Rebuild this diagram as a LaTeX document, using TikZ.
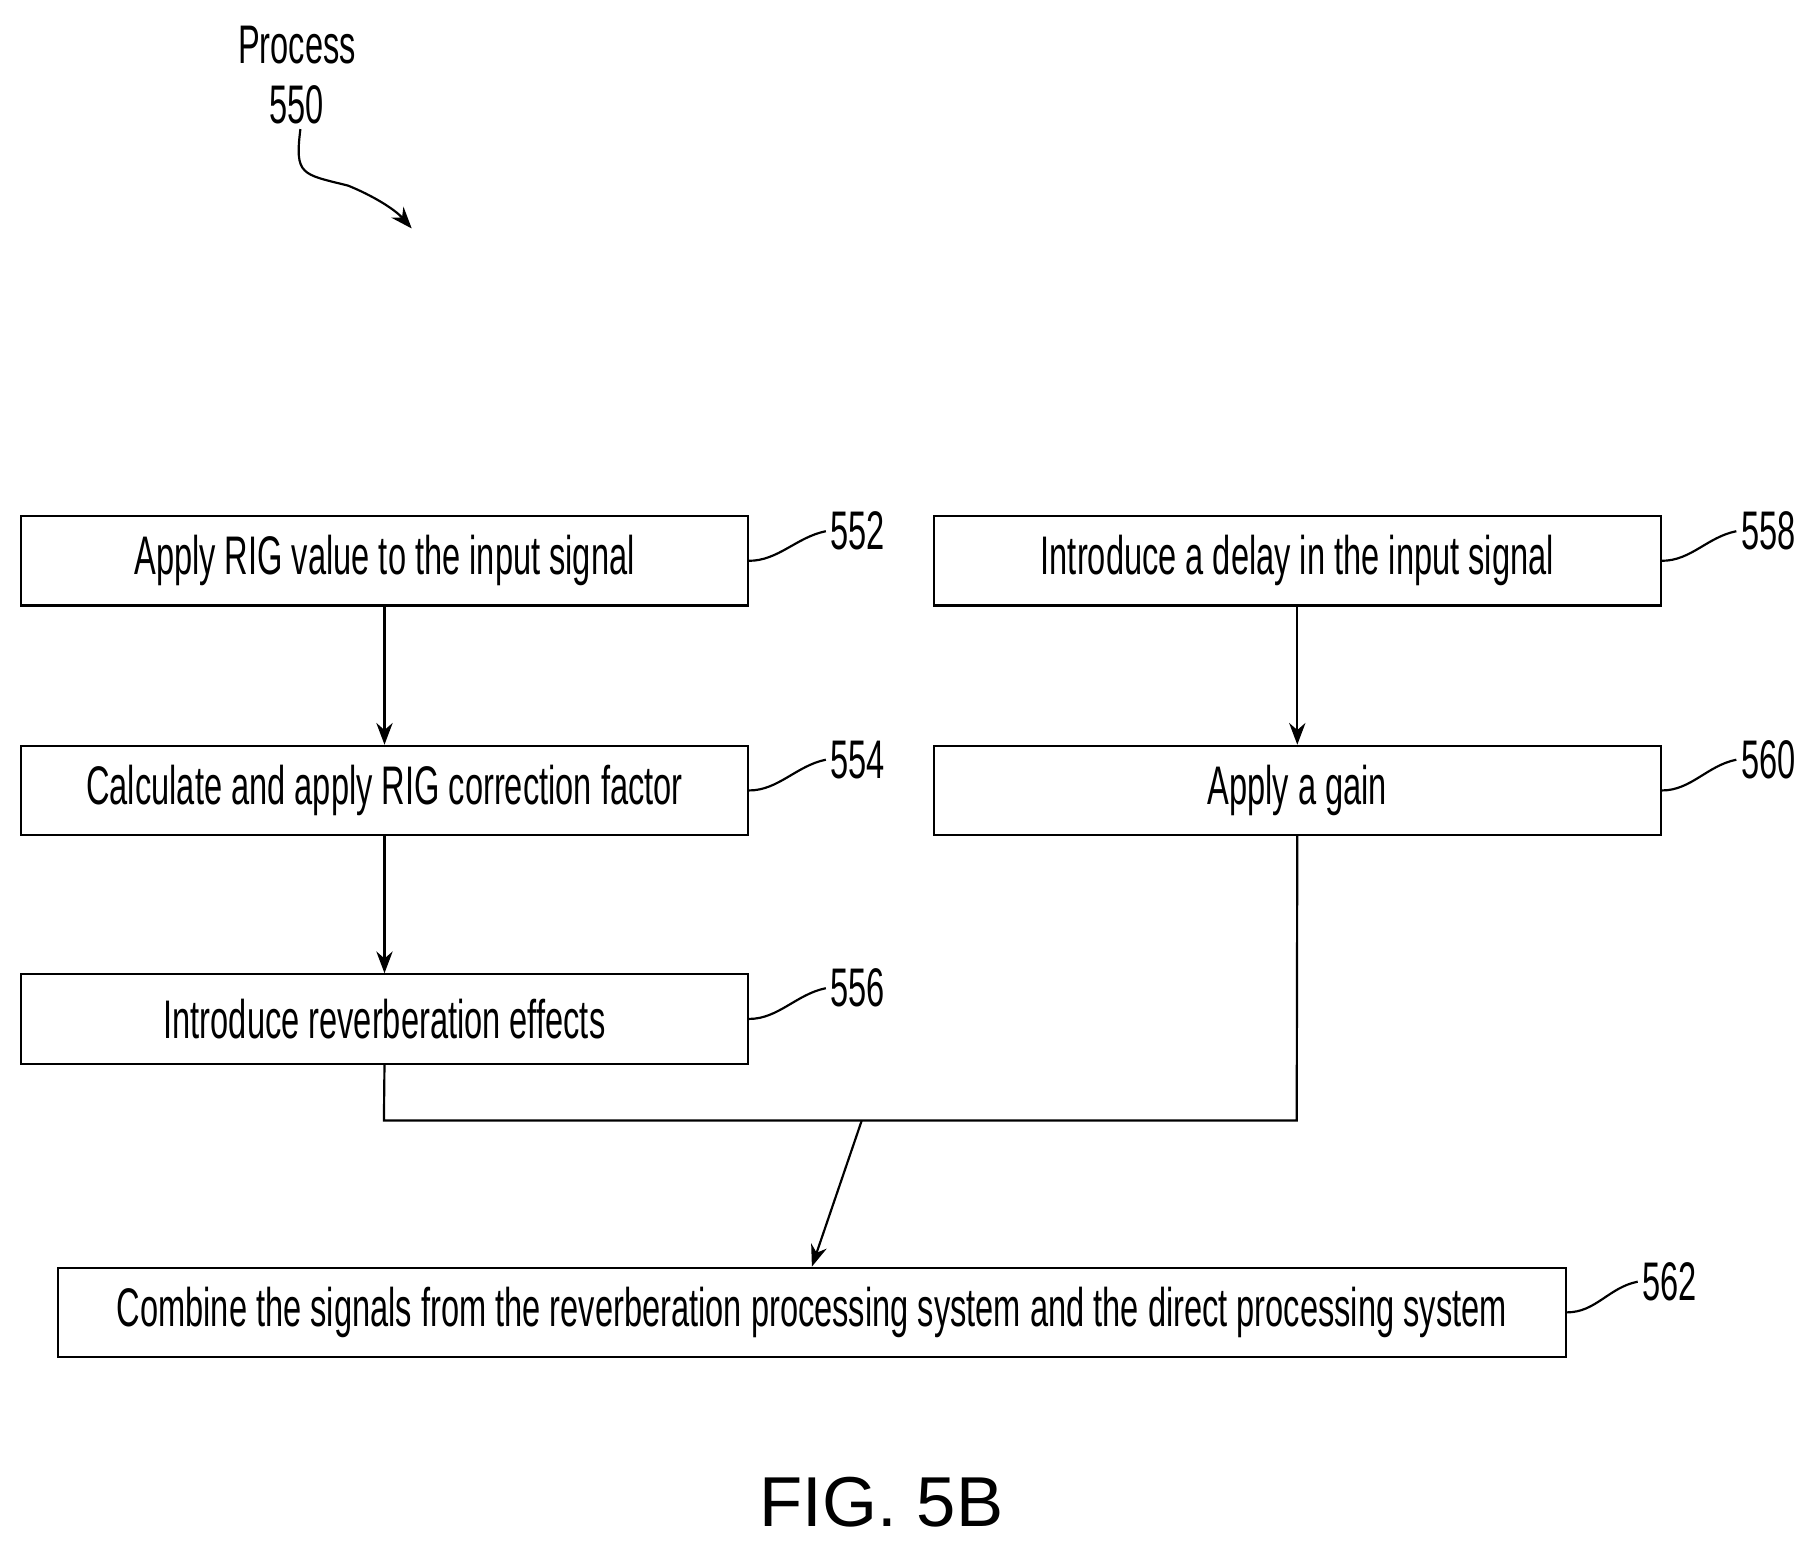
\documentclass[tikz,border=0pt]{standalone}
\usepackage{fontspec}
\usetikzlibrary{arrows.meta}
\setmainfont[FakeStretch=0.6]{Liberation Sans}
\newfontfamily\figfont{Liberation Sans}
\begin{document}
\begin{tikzpicture}[x=0.03cm,y=-0.03cm,
  box/.style={draw,line width=1.6pt,minimum height=77*0.03cm,inner sep=0pt,font=\fontsize{40}{44}\selectfont},
  lab/.style={font=\fontsize{40}{44}\selectfont,anchor=west},
  arr/.style={line width=1.6pt,-{Stealth[length=16pt,width=12pt]}},
  ln/.style={line width=1.6pt}]
\useasboundingbox (0,0) rectangle (1564,1336);
\node[box,minimum width=627*0.03cm] (b552) at (331.5,483.5) {Apply RIG value to the input signal};
\node[box,minimum width=627*0.03cm] (b554) at (331.5,681.5) {Calculate and apply RIG correction factor};
\node[box,minimum width=627*0.03cm] (b556) at (331.5,878.5) {Introduce reverberation effects};
\node[box,minimum width=627*0.03cm] (b558) at (1118.5,483.5) {Introduce a delay in the input signal};
\node[box,minimum width=627*0.03cm] (b560) at (1118.5,681.5) {Apply a gain};
\node[box,minimum width=1300*0.03cm] (b562) at (700,1131.5) {Combine the signals from the reverberation processing system and the direct processing system};
\foreach \n/\x/\y in {552/712/458,554/712/655,556/712/852,558/1497/458,560/1497/655,562/1412/1105}{
  \node[lab] (l\n) at (\x,\y) {\n};
  \draw[ln] (b\n.east) .. controls +(25,0) and +(-25,5) .. (l\n.west);
}
\draw[arr] (b552) -- (b554);
\draw[arr] (b554) -- (b556);
\draw[arr] (b558) -- (b560);
\coordinate (m1) at (331,966);
\coordinate (m2) at (1118,966);
\coordinate (m) at (743,966);
\draw[ln] (b556.south) -- (m1) -- (m2) -- (b560.south);
\draw[arr] (m) -- (b562.north);
\node[font=\fontsize{40}{44}\selectfont,align=center] (p) at (256,65) {Process\\550};
\coordinate (pe) at (355,197);
\draw[arr] (p.south) ++(3,0) .. controls +(-5,40) and +(-40,-10) .. (300,160) .. controls (320,168) and (340,180) .. (pe);
\node[font=\figfont\fontsize{52}{56}\selectfont] (fig) at (760,1295) {FIG. 5B};
\end{tikzpicture}
\end{document}
